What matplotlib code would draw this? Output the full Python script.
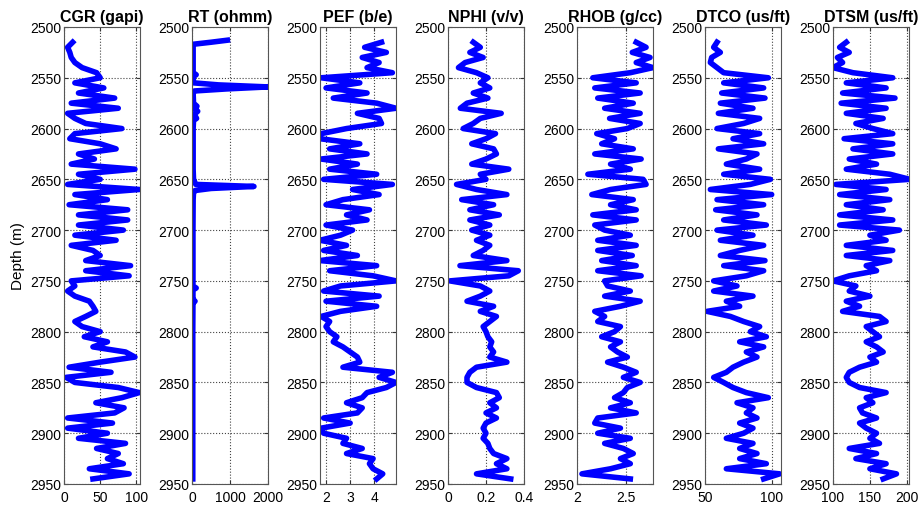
import numpy as np
import matplotlib
matplotlib.use('Agg')
import matplotlib.pyplot as plt

plt.rcParams['font.family'] = ['Liberation Sans', 'DejaVu Sans']

# depth sampling (m) for the sampled logs
depth = np.arange(2515, 2946, 5)

cgr = [12, 5, 8, 10, 15, 25, 45, 50, 15, 55,
       20, 70, 10, 75, 5, 15, 30, 80, 15, 8,
       50, 72, 20, 42, 10, 98, 20, 50, 5, 104,
       15, 60, 7, 88, 20, 88, 20, 82, 15, 72,
       10, 40, 50, 30, 92, 30, 90, 10, 15, 5,
       15, 35, 40, 44, 30, 15, 25, 50, 28, 60,
       40, 85, 98, 50, 7, 65, 3, 15, 75, 104,
       80, 44, 83, 70, 5, 67, 5, 60, 20, 85,
       45, 75, 60, 82, 35, 90, 40]

# resistivity has a few sharp spikes, so it gets its own depth list
rt_depth = [2513, 2515, 2517, 2530, 2545, 2547, 2549, 2555, 2557, 2559,
            2561, 2563, 2565, 2575, 2578, 2580, 2583, 2586, 2590, 2592,
            2600, 2640, 2650, 2655, 2657, 2659, 2661, 2663, 2670, 2700,
            2750, 2755, 2757, 2759, 2768, 2770, 2772, 2800, 2945]
rt = [930, 500, 30, 30, 30, 110, 30, 40, 700, 2000,
      900, 60, 30, 40, 130, 40, 150, 60, 120, 40,
      30, 30, 40, 100, 1630, 500, 80, 40, 30, 25,
      25, 25, 110, 25, 25, 80, 25, 20, 20]

pef = [4.3, 3.6, 4.5, 3.5, 4.2, 3.7, 4.75, 1.8, 3.4, 2.0,
       3.7, 2.3, 4.1, 4.9, 3.3, 4.2, 4.3, 2.85, 1.8, 1.75,
       3.4, 2.15, 3.7, 1.8, 3.3, 2.15, 4.1, 1.9, 4.75, 3.1,
       4.2, 2.7, 2.0, 3.8, 2.85, 3.7, 2.0, 3.1, 2.6, 1.75,
       2.85, 1.9, 3.3, 1.75, 4.1, 2.15, 3.95, 4.9, 2.6, 1.9,
       4.2, 2.0, 4.1, 2.6, 1.8, 2.15, 2.0, 2.15, 2.45, 2.3,
       2.7, 3.0, 3.3, 3.4, 2.7, 4.75, 4.2, 4.9, 4.5, 3.7,
       3.5, 2.85, 3.5, 3.3, 1.9, 3.0, 1.8, 1.9, 2.85, 2.7,
       3.5, 2.85, 3.95, 3.8, 3.95, 4.35, 4.1]

nphi = [0.133, 0.17, 0.115, 0.185, 0.09, 0.055, 0.15, 0.21, 0.17, 0.22,
        0.133, 0.21, 0.10, 0.065, 0.28, 0.17, 0.133, 0.08, 0.25, 0.20,
        0.125, 0.24, 0.255, 0.20, 0.125, 0.32, 0.17, 0.20, 0.045, 0.15,
        0.31, 0.072, 0.24, 0.115, 0.27, 0.115, 0.22, 0.125, 0.22, 0.15,
        0.22, 0.185, 0.133, 0.31, 0.063, 0.37, 0.32, 0.01, 0.17, 0.22,
        0.17, 0.10, 0.24, 0.17, 0.255, 0.22, 0.185, 0.20, 0.21, 0.23,
        0.22, 0.24, 0.22, 0.31, 0.15, 0.115, 0.10, 0.10, 0.15, 0.255,
        0.27, 0.22, 0.255, 0.20, 0.255, 0.20, 0.185, 0.20, 0.185, 0.21,
        0.22, 0.24, 0.31, 0.255, 0.31, 0.15, 0.33]

rhob = [2.60, 2.70, 2.56, 2.74, 2.60, 2.77, 2.54, 2.16, 2.60, 2.18,
        2.64, 2.21, 2.57, 2.28, 2.64, 2.33, 2.64, 2.51, 2.20, 2.38,
        2.25, 2.57, 2.18, 2.65, 2.34, 2.54, 2.11, 2.67, 2.70, 2.34,
        2.15, 2.57, 2.34, 2.60, 2.16, 2.60, 2.18, 2.28, 2.54, 2.21,
        2.60, 2.21, 2.56, 2.25, 2.60, 2.21, 2.65, 2.28, 2.31, 2.54,
        2.28, 2.64, 2.44, 2.18, 2.28, 2.21, 2.44, 2.38, 2.25, 2.44,
        2.34, 2.41, 2.51, 2.31, 2.47, 2.60, 2.47, 2.64, 2.51, 2.47,
        2.38, 2.54, 2.34, 2.60, 2.21, 2.18, 2.44, 2.21, 2.54, 2.28,
        2.47, 2.57, 2.44, 2.54, 2.34, 2.05, 2.54]

dtco = [59, 56.5, 61.5, 55, 54, 59, 64, 97.5, 64, 94,
        62.5, 95, 61.5, 86, 60, 91, 79, 59, 91, 71,
        94, 60, 89, 81, 66, 91, 64, 99, 84, 54,
        100, 59, 94, 58, 89, 64, 96, 59, 86, 61.5,
        94, 76, 61.5, 95, 64, 94, 81, 56.5, 74, 56.5,
        86, 66, 76, 51.5, 69, 79, 91, 84, 96, 76,
        94, 81, 89, 79, 71, 66, 56.5, 64, 71, 81,
        97.5, 74, 86, 81, 89, 76, 86, 79, 66, 86,
        76, 89, 76, 96, 66, 106, 94]

dtsm = [118, 109, 122, 106, 113, 100, 127, 181, 118, 172,
        113, 184, 111, 172, 118, 168, 131, 154, 181, 115,
        181, 127, 181, 122, 159, 118, 177, 204, 104, 172,
        109, 177, 118, 168, 109, 181, 109, 190, 150, 172,
        118, 181, 118, 177, 145, 159, 122, 100, 131, 122,
        150, 118, 136, 113, 163, 172, 145, 154, 163, 145,
        159, 168, 150, 159, 136, 122, 118, 122, 136, 172,
        145, 154, 136, 140, 159, 136, 145, 159, 150, 163,
        122, 159, 131, 172, 150, 186, 168]

titles = ['CGR (gapi)', 'RT (ohmm)', 'PEF (b/e)', 'NPHI (v/v)',
          'RHOB (g/cc)', 'DTCO (us/ft)', 'DTSM (us/ft)']
xlims = [(0, 105), (0, 2000), (1.75, 4.9), (0, 0.4),
         (2, 2.77), (50, 107), (100, 203)]
xticks = [[0, 50, 100], [0, 1000, 2000], [2, 3, 4], [0, 0.2, 0.4],
          [2, 2.5], [50, 100], [100, 150, 200]]
xticklabels = [['0', '50', '100'], ['0', '1000', '2000'], ['2', '3', '4'],
               ['0', '0.2', '0.4'], ['2', '2.5'], ['50', '100'],
               ['100', '150', '200']]

tracks = [(depth, cgr), (rt_depth, rt), (depth, pef), (depth, nphi),
          (depth, rhob), (depth, dtco), (depth, dtsm)]

fig = plt.figure(figsize=(9.2, 5.1), dpi=100)
lefts = [64, 192, 320, 448, 577, 705, 833]

for i, (d, v) in enumerate(tracks):
    ax = fig.add_axes([lefts[i] / 920, 25 / 510, 76 / 920, 457 / 510])
    ax.plot(v, d, color='#0000ff', linewidth=4.0, solid_joinstyle='round')
    ax.set_xlim(*xlims[i])
    ax.set_ylim(2950, 2500)
    ax.set_xticks(xticks[i])
    ax.set_xticklabels(xticklabels[i])
    ax.set_yticks(np.arange(2500, 2951, 50))
    ax.tick_params(direction='in', labelsize=10, length=3, color='#333333',
                   top=True, right=True)
    ax.tick_params(axis='x', pad=4.5)
    ax.tick_params(axis='y', pad=2)
    ax.grid(True, linestyle=':', color='#444444', linewidth=0.8)
    for s in ax.spines.values():
        s.set_color('#555555')
    ax.set_title(titles[i], fontsize=11.5, fontweight='bold', pad=4)
    if i == 0:
        ax.set_ylabel('Depth (m)', fontsize=11, labelpad=4)

fig.savefig('out.png', dpi=100)
